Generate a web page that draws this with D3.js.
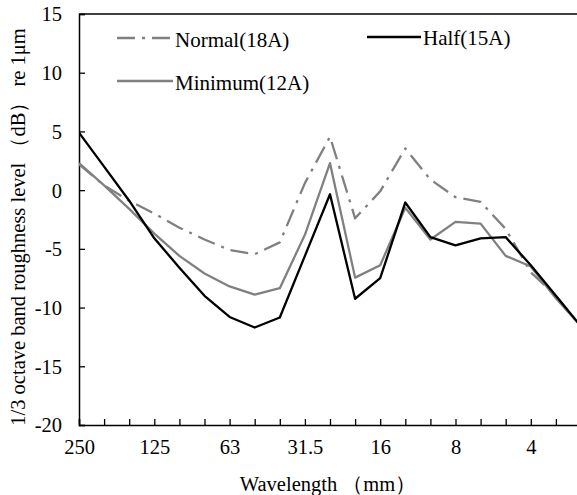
<!DOCTYPE html>
<html><head><meta charset="utf-8">
<script src="https://cdn.jsdelivr.net/npm/d3@7"></script>
<style>body{margin:0;background:#fff}svg{display:block}</style>
</head><body><svg id="c" width="577" height="495"></svg>
<script>
const categories = ["250","200","160","125","100","80","63","50","40","31.5","25","20","16","12.5","10","8","6.3","5","4","3.15","2.5"];
const tickLabels = ["250","125","63","31.5","16","8","4"];
const yTicks = [15,10,5,0,-5,-10,-15,-20];
const normal18A = [2.2,0.4,-0.9,-2.0,-3.2,-4.2,-5.1,-5.45,-4.45,0.6,4.55,-2.4,-0.1,3.55,0.9,-0.6,-1.0,-3.3,-7.0,-9.0,-11.6];
const half15A   = [4.9,2.0,-0.9,-4.1,-6.6,-9.0,-10.8,-11.7,-10.85,-5.6,-0.35,-9.25,-7.5,-1.05,-4.0,-4.7,-4.1,-4.0,-6.4,-9.0,-11.6];
const minimum12A= [2.3,0.4,-1.6,-3.7,-5.6,-7.1,-8.2,-8.9,-8.35,-3.8,2.3,-7.45,-6.4,-1.5,-4.2,-2.7,-2.85,-5.6,-6.5,-9.2,-11.6];

const FONT = "'Liberation Serif', 'Times New Roman', serif";
const svg = d3.select("#c").attr("font-family", FONT);
const L = 79, T = 14, B = 425, step = 25.1;
const x = d3.scalePoint().domain(categories).range([L, L + step*(categories.length-1)]);
const y = d3.scaleLinear().domain([-20,15]).range([B, T]);
const FS = "20.5px";

// top border
svg.append("line").attr("x1",L).attr("x2",600).attr("y1",T).attr("y2",T).attr("stroke","#000").attr("stroke-width",1.3);

// y axis
const ya = svg.append("g").attr("transform",`translate(${L},0)`)
  .call(d3.axisLeft(y).tickValues(yTicks).tickSize(-6).tickPadding(17).tickFormat(d => String(d)));
ya.attr("font-family", FONT);
ya.select(".domain").attr("stroke","#000").attr("stroke-width",1.5);
ya.selectAll(".tick line").attr("stroke","#000").attr("stroke-width",1.3);
ya.selectAll("text").attr("font-family", FONT).style("font-size",FS).attr("dy","0.34em");

// x axis
const xa = svg.append("g").attr("transform",`translate(0,${B})`)
  .call(d3.axisBottom(x).tickSize(-6).tickPadding(14).tickFormat(d => tickLabels.includes(d) ? d : ""));
xa.attr("font-family", FONT);
xa.select(".domain").attr("stroke","#000").attr("stroke-width",1.5);
xa.selectAll(".tick line").attr("stroke","#000").attr("stroke-width",1.3);
xa.selectAll("text").attr("font-family", FONT).style("font-size",FS).attr("dy","0.71em");

const line = d3.line().x((d,i)=>x(categories[i])).y(d=>y(d));
const series = [
  {name:"Normal(18A)", data:normal18A, color:"#808080", dash:"18,7,3,7"},
  {name:"Minimum(12A)", data:minimum12A, color:"#808080", dash:null},
  {name:"Half(15A)", data:half15A, color:"#000", dash:null}
];
svg.append("defs").append("clipPath").attr("id","clip").append("rect").attr("x",L).attr("y",0).attr("width",600).attr("height",B);
const g = svg.append("g").attr("clip-path","url(#clip)");
series.forEach(s=>{
  g.append("path").attr("d",line(s.data)).attr("fill","none").attr("stroke",s.color)
   .attr("stroke-width",2.3).attr("stroke-linejoin","round").attr("stroke-dasharray",s.dash);
});

// legend
const leg = [
  {s:series[0], x1:117, x2:173, y:38, ty:46.5},
  {s:series[2], x1:367, x2:421, y:37, ty:45},
  {s:series[1], x1:117, x2:173, y:81, ty:90}
];
leg.forEach(l=>{
  svg.append("line").attr("x1",l.x1).attr("x2",l.x2).attr("y1",l.y).attr("y2",l.y)
    .attr("stroke",l.s.color).attr("stroke-width",2.3).attr("stroke-dasharray",l.s.dash);
  svg.append("text").attr("x",l.x2+2).attr("y",l.ty).attr("font-family",FONT).style("font-size","21px").text(l.s.name);
});

// axis titles
svg.append("text").attr("x",328).attr("y",491).attr("text-anchor","middle").attr("font-family",FONT).style("font-size",FS)
  .text("Wavelength （mm）");
svg.append("text").attr("transform","translate(25,227) rotate(-90)").attr("text-anchor","middle").attr("font-family",FONT).style("font-size",FS)
  .text("1/3 octave band roughness level （dB） re 1μm");
</script></body></html>
